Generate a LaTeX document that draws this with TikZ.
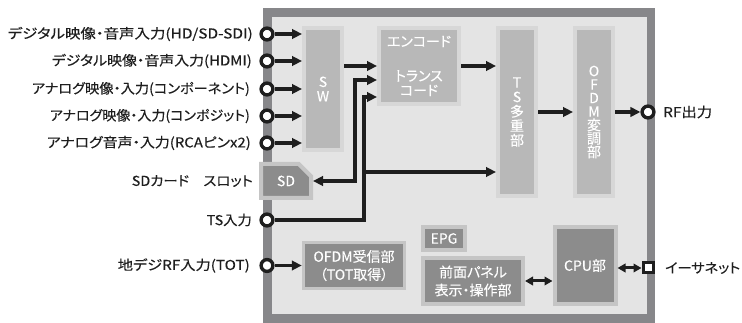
\documentclass[tikz,border=0pt]{standalone}
\usepackage{fontspec}
\usepackage{graphicx}
\setmainfont{Noto Sans CJK JP}[RawFeature=+palt, FakeBold=0.2]
\usetikzlibrary{arrows.meta,shapes.misc}
\definecolor{frame}{HTML}{87878A}
\definecolor{bg}{HTML}{E4E4E4}
\definecolor{lblk}{HTML}{B8B8B8}
\definecolor{lhalo}{HTML}{D7D7D7}
\definecolor{dblk}{HTML}{8C8C8C}
\definecolor{dhalo}{HTML}{C5C5C5}
\definecolor{ink}{HTML}{1E1E1E}
\newcommand\fitw[2]{\resizebox{#1pt}{\height}{#2}}
\tikzset{
 lightbox/.style={draw=lhalo, fill=lblk, line width=4pt, inner sep=0pt, text=white, font=\fontsize{14}{14.5}\selectfont, align=center},
 darkbox/.style={draw=dhalo, fill=dblk, line width=4pt, inner sep=0pt, text=white, font=\fontsize{14}{18}\selectfont, align=center},
 port/.style={circle, draw=ink, fill=white, line width=3.4pt, minimum size=11.8pt, inner sep=0pt},
 sqport/.style={rectangle, draw=ink, fill=white, line width=3pt, minimum size=10pt, inner sep=0pt},
 lab/.style={text=ink, font=\fontsize{13.6}{15}\selectfont, inner sep=0pt},
 arr/.style={draw=ink, line width=3.3pt, -{Triangle[length=10pt,width=9.5pt]}},
 arrboth/.style={draw=ink, line width=3.3pt, {Triangle[length=10pt,width=9.5pt]}-{Triangle[length=10pt,width=9.5pt]}},
 dblsmall/.style={draw=ink, line width=3pt, {Triangle[length=8pt,width=8.5pt]}-{Triangle[length=8pt,width=8.5pt]}},
}
\begin{document}
\begin{tikzpicture}[x=1pt,y=-1pt]
\useasboundingbox (0,0) rectangle (742,323);
\fill[white] (0,0) rectangle (742,323);
\fill[frame] (263,8) rectangle (655,323);
\fill[bg] (272,17) rectangle (647,314);

% blocks
\node[lightbox, minimum width=38pt, minimum height=122pt] (sw) at (323,89) {S\\W};
\node[lightbox, minimum width=80pt, minimum height=76pt] (enc) at (419,66) {エンコード\\[20pt]トランス\\コード};
\node[lightbox, minimum width=38pt, minimum height=168pt] (tsm) at (517,112) {T\\S\\多\\重\\部};
\node[lightbox, minimum width=38pt, minimum height=168pt, font=\fontsize{14}{13.5}\selectfont] (mod) at (594,112) {O\\F\\D\\M\\変\\調\\部};

\node[darkbox, chamfered rectangle, chamfered rectangle corners=north east, chamfered rectangle xsep=7pt, chamfered rectangle ysep=7pt, minimum width=50pt, minimum height=34pt] (sd) at (286,181) {SD};
\node[darkbox, line width=3.5pt, minimum width=101pt, minimum height=46pt] (rx) at (354,265.5) {OFDM受信部\\（TOT取得）};
\node[darkbox, minimum width=42pt, minimum height=23pt] (epg) at (444,238.5) {EPG};
\node[darkbox, minimum width=100pt, minimum height=46pt] (panel) at (473,281) {前面パネル\\表示・操作部};
\node[darkbox, minimum width=61pt, minimum height=77pt] (cpu) at (585,265.5) {CPU部};

% ports
\node[port] (in1) at (267,34) {};
\node[port] (in2) at (267,61) {};
\node[port] (in3) at (267,89) {};
\node[port] (in4) at (267,116) {};
\node[port] (in5) at (267,143) {};
\node[port] (ts) at (267,220) {};
\node[port] (rfin) at (267,265.5) {};
\node[port] (rfout) at (648,112) {};
\node[sqport] (eth) at (648,268) {};

% labels
\node[lab, anchor=east] (l1) at (253,34) {\fitw{245}{デジタル映像・音声入力(HD/SD-SDI)}};
\node[lab, anchor=east] (l2) at (252,61) {\fitw{200}{デジタル映像・音声入力(HDMI)}};
\node[lab, anchor=east] (l3) at (250,89) {\fitw{218}{アナログ映像・入力(コンポーネント)}};
\node[lab, anchor=east] (l4) at (250,116) {\fitw{200}{アナログ映像・入力(コンポジット)}};
\node[lab, anchor=east] (l5) at (251,143) {\fitw{204}{アナログ音声・入力(RCAピンx2)}};
\node[lab, anchor=east] (l6) at (253,181) {\fitw{121}{SDカード　スロット}};
\node[lab, anchor=east] (l7) at (252,220) {\fitw{45}{TS入力}};
\node[lab, anchor=east] (l8) at (250,265.5) {\fitw{132}{地デジRF入力(TOT)}};
\node[lab, anchor=west] (l9) at (663,112) {\fitw{49}{RF出力}};
\node[lab, anchor=west] (l10) at (665,268) {\fitw{75}{イーサネット}};

% connectors
\foreach \i in {1,...,5} \draw[arr] (in\i) -- (in\i -| sw.west);
\draw[arr] (sw.east |- enc.west) -- (enc.west);
\coordinate (j1) at (355,80);
\draw[arrboth] (sd.east) -| (j1) -- (j1 -| enc.west);
\coordinate (j2) at (364,97);
\draw[arr] (ts) -| (j2) -- (j2 -| enc.west);
\coordinate (j3) at (364,172);
\draw[arr] (j3) -- (j3 -| tsm.west);
\draw[arr] (enc.east) -- (enc.east -| tsm.west);
\draw[arr] (tsm.east) -- (mod.west);
\draw[arr] (mod.east) -- (rfout);
\draw[arr] (rfin) -- (rfin -| rx.west);
\draw[dblsmall] (panel.east) -- (panel.east -| cpu.west);
\draw[dblsmall] (cpu.east |- eth) -- (eth);
\end{tikzpicture}
\end{document}
